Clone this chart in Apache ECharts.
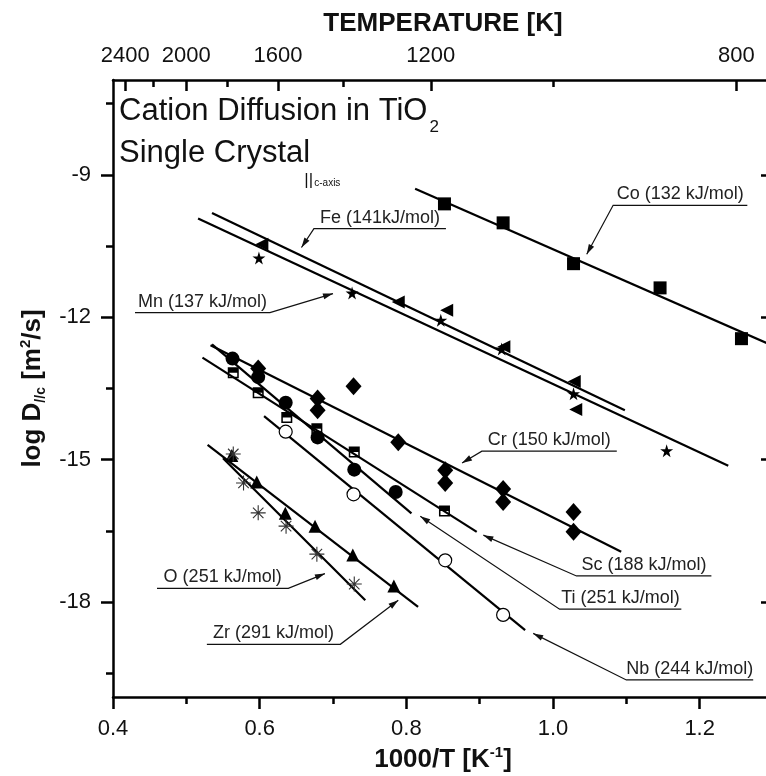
<!DOCTYPE html>
<html><head><meta charset="utf-8">
<script src="https://cdn.jsdelivr.net/npm/echarts@6.0.0/dist/echarts.min.js"></script>
<style>html,body{margin:0;padding:0;background:#fff}#c{width:766px;height:776px}</style>
</head><body><div id="c"></div>
<script>
// ---- tick labels ----
const xMajor = [0.4, 0.6, 0.8, 1.0, 1.2];
const xMinor = [0.5, 0.7, 0.9, 1.1, 1.3];
const yMajor = [-18, -15, -12, -9];
const yMinor = [-19.5, -16.5, -13.5, -10.5, -7.5];
const tempMajor = [2400, 2000, 1600, 1200, 800];
const tempMinor = [2200, 1800, 1400, 1000];

// ---- data: 1000/T [1/K] and log D ----
const coT = [0.852, 0.932, 1.028, 1.146, 1.257];
const coD = [-9.61, -10.01, -10.87, -11.38, -12.45];
const coFitT = [0.812, 1.30];
const coFitD = [-9.29, -12.60];

const feT = [0.603, 0.789, 0.855, 0.933, 1.029, 1.031];
const feD = [-10.46, -11.68, -11.85, -12.62, -13.35, -13.94];
const feFitT = [0.535, 1.098];
const feFitD = [-9.80, -13.96];

const mnT = [0.599, 0.726, 0.847, 0.930, 1.028, 1.155];
const mnD = [-10.75, -11.49, -12.06, -12.67, -13.61, -14.81];
const mnFitT = [0.516, 1.239];
const mnFitD = [-9.92, -15.13];

const crT = [0.598, 0.679, 0.679, 0.728, 0.789, 0.853, 0.853, 0.932, 0.932, 1.028, 1.028];
const crD = [-13.08, -13.71, -13.96, -13.45, -14.63, -15.22, -15.49, -15.62, -15.89, -16.10, -16.52];
const crFitT = [0.533, 1.093];
const crFitD = [-12.59, -16.94];

const tiT = [0.563, 0.598, 0.6355, 0.679, 0.729, 0.7855];
const tiD = [-12.87, -13.26, -13.80, -14.53, -15.21, -15.68];
const tiFitT = [0.535, 0.807];
const tiFitD = [-12.57, -16.13];

const scT = [0.564, 0.598, 0.637, 0.678, 0.729, 0.852];
const scD = [-13.17, -13.59, -14.11, -14.35, -14.84, -16.08];
const scFitT = [0.522, 0.896];
const scFitD = [-12.85, -16.52];

const nbT = [0.6355, 0.728, 0.853, 0.932];
const nbD = [-14.41, -15.73, -17.12, -18.27];
const nbFitT = [0.606, 0.962];
const nbFitD = [-14.08, -18.59];

const zrT = [0.562, 0.596, 0.635, 0.6755, 0.727, 0.783];
const zrD = [-14.91, -15.47, -16.13, -16.40, -17.01, -17.66];
const zrFitT = [0.529, 0.816];
const zrFitD = [-14.69, -18.10];

const oT = [0.564, 0.578, 0.598, 0.636, 0.678, 0.729];
const oD = [-14.88, -15.49, -16.12, -16.40, -16.99, -17.62];
const oFitT = [0.550, 0.744];
const oFitD = [-14.97, -17.96];

// ---- annotation labels (data coordinates) ----
const annLabels = ['Fe (141kJ/mol)', 'Co (132 kJ/mol)', 'Mn (137 kJ/mol)', 'Cr (150 kJ/mol)', 'Sc (188 kJ/mol)', 'Ti (251 kJ/mol)', 'Nb (244 kJ/mol)', 'O (251 kJ/mol)', 'Zr (291 kJ/mol)'];
const annX1 = [0.674, 1.082, 0.430, 0.903, 1.032, 1.009, 1.100, 0.460, 0.528];
const annX2 = [0.854, 1.265, 0.614, 1.087, 1.216, 1.175, 1.273, 0.639, 0.710];
const annY = [-10.13, -9.64, -11.90, -14.82, -17.45, -18.15, -19.64, -17.71, -18.89];
const annTipX = [0.657, 1.046, 0.700, 0.876, 0.905, 0.819, 0.973, 0.689, 0.789];
const annTipY = [-10.53, -10.67, -11.50, -15.07, -16.59, -16.19, -18.66, -17.40, -17.96];
const annSide = ['L', 'L', 'R', 'L', 'L', 'L', 'L', 'R', 'R'];

const FONT = '"Liberation Sans", Arial, sans-serif';
const zip = (a, b) => a.map((v, i) => [v, b[i]]);

const STAR = 'path://M50,0 L61,35 L98,35 L68,57 L79,91 L50,70 L21,91 L32,57 L2,35 L39,35 Z';
const ASTER = 'path://M0,50 L100,50 M50,0 L50,100 M15,15 L85,85 M85,15 L15,85';
const HALFSQ = 'path://M0,0 H100 V50 H0 Z M0,50 H14 V100 H0 Z M86,50 H100 V100 H86 Z M0,86 H100 V100 H0 Z';

const BLACK = {color: '#000', opacity: 1};
const species = [
  {n: 'Co', T: coT, D: coD, fT: coFitT, fD: coFitD, sym: 'rect', size: 13},
  {n: 'Fe', T: feT, D: feD, fT: feFitT, fD: feFitD, sym: 'triangle', size: 13, rot: 90},
  {n: 'Mn', T: mnT, D: mnD, fT: mnFitT, fD: mnFitD, sym: STAR, size: 13},
  {n: 'Cr', T: crT, D: crD, fT: crFitT, fD: crFitD, sym: 'diamond', size: [16, 18]},
  {n: 'Ti', T: tiT, D: tiD, fT: tiFitT, fD: tiFitD, sym: 'circle', size: 14},
  {n: 'Sc', T: scT, D: scD, fT: scFitT, fD: scFitD, sym: HALFSQ, size: 11},
  {n: 'Nb', T: nbT, D: nbD, fT: nbFitT, fD: nbFitD, sym: 'circle', size: 13, item: {color: '#fff', borderColor: '#000', borderWidth: 1.2, opacity: 1}},
  {n: 'Zr', T: zrT, D: zrD, fT: zrFitT, fD: zrFitD, sym: 'triangle', size: 13},
  {n: 'O', T: oT, D: oD, fT: oFitT, fD: oFitD, sym: ASTER, size: 15, item: {color: 'rgba(0,0,0,0)', borderColor: '#333', borderWidth: 1.1, opacity: 1}}
];

const series = [];
species.forEach(s => {
  series.push({type: 'line', name: s.n + ' fit', data: zip(s.fT, s.fD), symbol: 'none', showSymbol: false,
    lineStyle: {color: '#000', width: 2.2}, silent: true, z: 2, xAxisIndex: 0, yAxisIndex: 0});
  series.push({type: 'scatter', name: s.n, data: zip(s.T, s.D), symbol: s.sym, symbolSize: s.size,
    symbolRotate: s.rot || 0, itemStyle: s.item || BLACK, silent: true, z: 3, xAxisIndex: 0, yAxisIndex: 0});
});

const axisLineStyle = {color: '#000', width: 2.5};
const base = {type: 'value', splitLine: {show: false}, minorSplitLine: {show: false}};

const chart = echarts.init(document.getElementById('c'));
chart.setOption({
  animation: false,
  backgroundColor: '#fff',
  grid: {left: 113, top: 80, width: 660, height: 617, containLabel: false, outerBoundsMode: 'none'},
  xAxis: [
    Object.assign({}, base, {min: 0.4, max: 1.3, position: 'bottom',
      axisLine: {lineStyle: axisLineStyle},
      axisTick: {customValues: xMajor, length: 12, lineStyle: {color: '#000', width: 2.5}},
      axisLabel: {customValues: xMajor, fontSize: 22, fontFamily: FONT, color: '#111', margin: 21, formatter: v => v.toFixed(1)},
      name: '1000/T [K{sup|-1}]', nameLocation: 'middle', nameGap: 47,
      nameTextStyle: {fontSize: 26, fontWeight: 'bold', fontFamily: FONT, color: '#111', lineHeight: 30,
        rich: {sup: {fontSize: 15, fontWeight: 'bold', fontFamily: FONT, color: '#111', verticalAlign: 'top', lineHeight: 16}}}}),
    Object.assign({}, base, {min: 0.4, max: 1.3, position: 'bottom', offset: 0,
      axisLine: {show: false},
      axisTick: {customValues: xMinor, length: 7, lineStyle: {color: '#000', width: 2.5}},
      axisLabel: {show: false}}),
    Object.assign({}, base, {min: 0.4, max: 1.3, position: 'top', offset: 0,
      axisLine: {lineStyle: axisLineStyle},
      axisTick: {inside: true, customValues: tempMajor.map(t => 1000 / t), length: 11, lineStyle: {color: '#000', width: 2.5}},
      axisLabel: {customValues: tempMajor.map(t => 1000 / t), formatter: v => String(Math.round(1000 / v)),
        fontSize: 22, fontFamily: FONT, color: '#111', margin: 13},
      name: 'TEMPERATURE [K]', nameLocation: 'middle', nameGap: 43,
      nameTextStyle: {fontSize: 26, fontWeight: 'bold', fontFamily: FONT, color: '#111'}}),
    Object.assign({}, base, {min: 0.4, max: 1.3, position: 'top', offset: 0,
      axisLine: {show: false},
      axisTick: {inside: true, customValues: tempMinor.map(t => 1000 / t), length: 7, lineStyle: {color: '#000', width: 2.5}},
      axisLabel: {show: false}})
  ],
  yAxis: [
    Object.assign({}, base, {min: -20, max: -7, position: 'left',
      axisLine: {lineStyle: axisLineStyle},
      axisTick: {customValues: yMajor, length: 12, lineStyle: {color: '#000', width: 2.5}},
      axisLabel: {customValues: yMajor, fontSize: 22, fontFamily: FONT, color: '#111', margin: 22},
      name: 'log D{sub|//c} [m{sup|2}/s]', nameLocation: 'middle', nameGap: 64, nameRotate: 90,
      nameTextStyle: {fontSize: 26, fontWeight: 'bold', fontFamily: FONT, color: '#111', lineHeight: 30,
        rich: {
          sub: {fontSize: 14, fontWeight: 'bold', fontFamily: FONT, color: '#111', verticalAlign: 'bottom', lineHeight: 10},
          sup: {fontSize: 15, fontWeight: 'bold', fontFamily: FONT, color: '#111', verticalAlign: 'top', lineHeight: 16}
        }}}),
    Object.assign({}, base, {min: -20, max: -7, position: 'left', offset: 0,
      axisLine: {show: false},
      axisTick: {customValues: yMinor, length: 7, lineStyle: {color: '#000', width: 2.5}},
      axisLabel: {show: false}}),
    Object.assign({}, base, {min: -20, max: -7, position: 'right', offset: 0,
      axisLine: {show: false},
      axisTick: {inside: true, customValues: yMajor, length: 12, lineStyle: {color: '#000', width: 2.5}},
      axisLabel: {show: false}}),
    Object.assign({}, base, {min: -20, max: -7, position: 'right', offset: 0,
      axisLine: {show: false},
      axisTick: {inside: true, customValues: yMinor, length: 7, lineStyle: {color: '#000', width: 2.5}},
      axisLabel: {show: false}})
  ],
  series: series
});

// ---- annotations and in-plot title ----
const graphic = [];
const toPx = (x, y) => chart.convertToPixel({seriesIndex: 0}, [x, y]);
const annFont = '18px ' + FONT;
annLabels.forEach((lab, i) => {
  const p1 = toPx(annX1[i], annY[i]);
  const p2 = toPx(annX2[i], annY[i]);
  const tip = toPx(annTipX[i], annTipY[i]);
  const from = annSide[i] === 'L' ? p1 : p2;
  const other = annSide[i] === 'L' ? p2 : p1;
  graphic.push({type: 'polyline', silent: true, z: 10, shape: {points: [other, from, tip]},
    style: {stroke: '#111', lineWidth: 1.2, fill: null}});
  const dx = tip[0] - from[0], dy = tip[1] - from[1];
  const L = Math.hypot(dx, dy);
  const ux = dx / L, uy = dy / L;
  const al = 10, aw = 3;
  graphic.push({type: 'polygon', silent: true, z: 10, shape: {points: [
    tip,
    [tip[0] - ux * al - uy * aw, tip[1] - uy * al + ux * aw],
    [tip[0] - ux * al + uy * aw, tip[1] - uy * al - ux * aw]
  ]}, style: {fill: '#111'}});
  graphic.push({type: 'text', silent: true, z: 10, style: {
    text: lab, x: (p1[0] + p2[0]) / 2, y: p1[1] - 11, align: 'center', verticalAlign: 'middle',
    textAlign: 'center', textVerticalAlign: 'middle', fill: '#222', font: annFont}});
});
const titleFont = '31px ' + FONT;
const ctx = document.createElement('canvas').getContext('2d');
ctx.font = titleFont;
const line1 = 'Cation Diffusion in TiO';
const line2 = 'Single Crystal';
const w1 = ctx.measureText(line1).width;
const w2 = ctx.measureText(line2).width;
const tx = 119;
graphic.push({type: 'text', silent: true, z: 10, style: {text: line1, x: tx, y: 111,
  verticalAlign: 'middle', textVerticalAlign: 'middle', fill: '#111', font: titleFont}});
graphic.push({type: 'text', silent: true, z: 10, style: {text: '2', x: tx + w1 + 2, y: 127,
  verticalAlign: 'middle', textVerticalAlign: 'middle', fill: '#111', font: '17px ' + FONT}});
graphic.push({type: 'text', silent: true, z: 10, style: {text: line2, x: tx, y: 153,
  verticalAlign: 'middle', textVerticalAlign: 'middle', fill: '#111', font: titleFont}});
graphic.push({type: 'text', silent: true, z: 10, style: {text: '||', x: tx + w2 - 6, y: 180,
  verticalAlign: 'middle', textVerticalAlign: 'middle', fill: '#111', font: '17px ' + FONT}});
graphic.push({type: 'text', silent: true, z: 10, style: {text: 'c-axis', x: tx + w2 + 4, y: 183,
  verticalAlign: 'middle', textVerticalAlign: 'middle', fill: '#111', font: '10px ' + FONT}});
chart.setOption({graphic: graphic});
</script>
</body></html>
